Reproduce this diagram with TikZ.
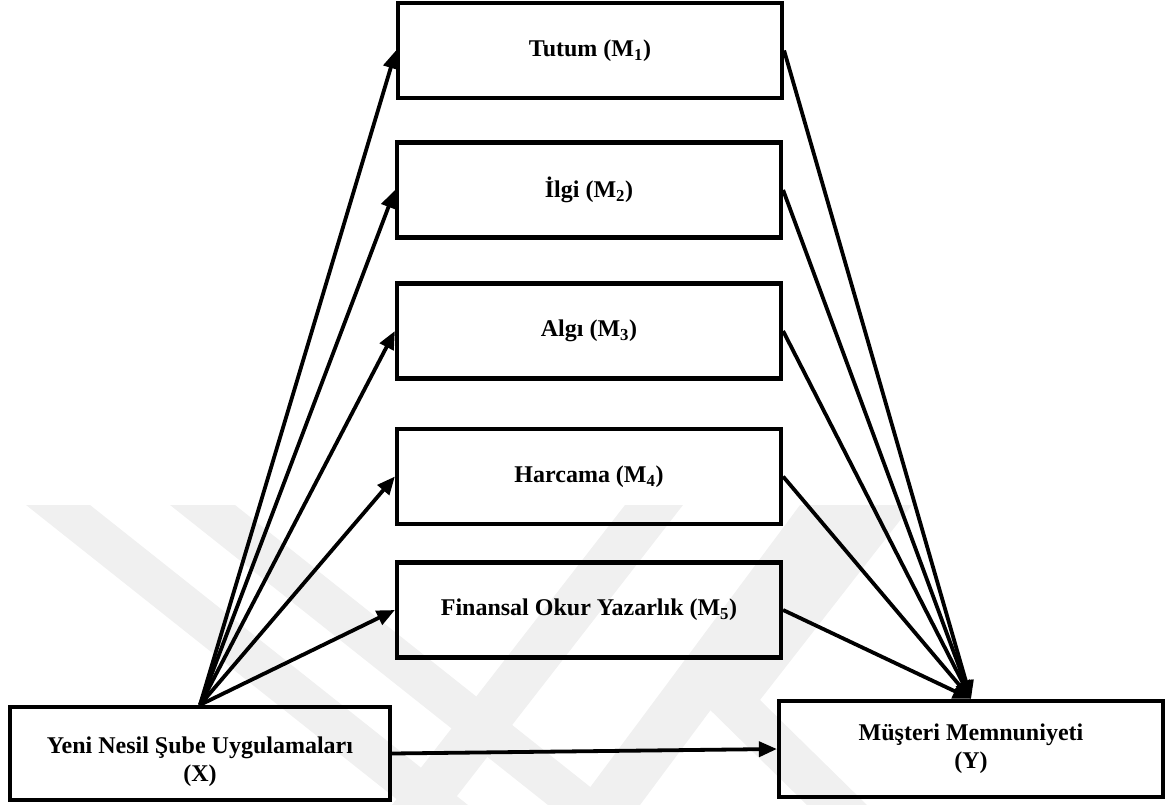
\documentclass[tikz,border=0pt]{standalone}
\usepackage{fontspec}
\setmainfont{Liberation Serif}
\usetikzlibrary{arrows.meta}
\begin{document}
\begin{tikzpicture}[x=1pt,y=-1pt,
  box/.style={draw, line width=4.2pt, minimum width=384pt, minimum height=95pt, inner sep=0pt},
  lbl/.style={font=\fontsize{24}{27.6}\selectfont\bfseries, align=center, inner sep=0pt},
  conn/.style={line width=3.8pt, -{Triangle[length=18pt,width=15pt]}},
  wm/.style={fill=black!6, draw=none}]
\useasboundingbox (0,0) rectangle (1165,805);
% faint watermark
\begin{scope}
  \clip (0,505) rectangle (1165,805);
  \fill[wm] (26,505) -- (90,505) -- (468,805) -- (404,805) -- cycle;
  \fill[wm] (170,505) -- (235,505) -- (613,805) -- (548,805) -- cycle;
  \fill[wm] (625,505) -- (683,505) -- (450,805) -- (392,805) -- cycle;
  \fill[wm] (800,505) -- (863,505) -- (640,805) -- (577,805) -- cycle;
  \fill[wm] (852,505) -- (912,505) -- (760,700) -- (700,700) -- cycle;
  \fill[wm] (700,700) -- (760,700) -- (867,805) -- (807,805) -- cycle;
\end{scope}
% boxes
\node[box, lbl] (m1) at (590,50.5) {Tutum (M\textsubscript{1})};
\node[box, lbl] (m2) at (589,190) {İlgi (M\textsubscript{2})};
\node[box, lbl] (m3) at (589,331) {Algı (M\textsubscript{3})};
\node[box, lbl] (m4) at (589,476.5) {Harcama (M\textsubscript{4})};
\node[box, lbl] (m5) at (589,610) {Finansal Okur Yazarlık (M\textsubscript{5})};
\node[box, minimum width=380pt, minimum height=93pt] (x) at (200,753.5) {};
\node[lbl] (xt) at (200,762) {Yeni Nesil Şube Uygulamaları\\(X)};
\node[box, lbl, minimum height=96pt] (y) at (971,749) {Müşteri Memnuniyeti\\(Y)};
% connectors
\foreach \m in {m1,m2,m3,m4,m5}{
  \draw[conn] (x.north) -- (\m.west);
  \draw[conn] (\m.east) -- (y.north);
}
\draw[conn] (x.east) -- (y.west);
\end{tikzpicture}
\end{document}
